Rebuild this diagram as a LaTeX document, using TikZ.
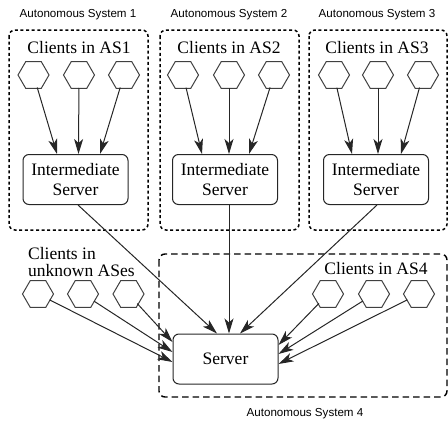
\documentclass[tikz,border=0pt]{standalone}
\usepackage{fontspec}
\setmainfont{Liberation Serif}
\newfontfamily\labelfont{Liberation Sans}
\usetikzlibrary{arrows.meta,calc}
\begin{document}
\begin{tikzpicture}[x=1pt,y=1pt,
  hexnode/.style={circle, minimum size=26pt, inner sep=0pt, outer sep=0pt},
  hexline/.style={draw=black!75, line width=1pt, line join=miter},
  srv/.style={draw=black!85, rounded corners=6pt, line width=1pt, minimum width=105pt, minimum height=50pt, align=center, inner sep=0pt, font=\fontsize{17.5}{19.5}\selectfont},
  ctext/.style={font=\fontsize{17.5}{17}\selectfont, inner sep=0pt},
  aslabel/.style={font=\labelfont\fontsize{11.6}{13}\selectfont, inner sep=0pt},
  asframe/.style={line width=1.5pt, dash pattern=on 3pt off 2.6pt, rounded corners=6pt},
  asframeb/.style={line width=1.4pt, dash pattern=on 6.5pt off 4pt, rounded corners=6pt},
  arr/.style={draw=black!85, line width=1pt, -{Stealth[length=15pt,width=9pt,inset=4pt]}}
]
\useasboundingbox (0,0) rectangle (448,-423);

% frames
\draw[asframe] (9,-30) rectangle (148,-230);
\draw[asframe] (160,-30) rectangle (299,-230);
\draw[asframe] (309,-30) rectangle (447,-230);
\draw[asframeb] (159,-254) rectangle (447,-397);

% AS labels
\node[aslabel] (l1) at (78,-15) {Autonomous System 1};
\node[aslabel] (l2) at (229,-15) {Autonomous System 2};
\node[aslabel] (l3) at (377,-15) {Autonomous System 3};
\node[aslabel] (l4) at (305,-414) {Autonomous System 4};

% client texts
\node[ctext, anchor=base] (c1) at (79,-53) {Clients in AS1};
\node[ctext, anchor=base] (c2) at (229,-53) {Clients in AS2};
\node[ctext, anchor=base] (c3) at (377,-53) {Clients in AS3};
\node[ctext, align=left, anchor=west] (cu) at (28,-262) {Clients in\\unknown ASes};
\node[ctext, anchor=base] (c4) at (376,-274) {Clients in AS4};

% hexagons
\foreach \n/\x/\y in {h11/33.5/-75, h12/79/-75, h13/124/-75,
                      h21/183/-75, h22/229/-75, h23/274/-75,
                      h31/334/-75, h32/378/-75, h33/423/-75,
                      u1/38/-294, u2/83/-294, u3/128.5/-294,
                      a1/328/-294, a2/374/-294, a3/419/-294} {
  \node[hexnode] (\n) at (\x,\y) {};
  \draw[hexline] (\x-15.5,\y) -- (\x-7.75,\y+13.4) -- (\x+7.75,\y+13.4)
     -- (\x+15.5,\y) -- (\x+7.75,\y-13.4) -- (\x-7.75,\y-13.4) -- cycle;
}

% servers
\node[srv] (ib1) at (75.5,-179.5) {Intermediate\\Server};
\node[srv] (ib2) at (225,-179.5) {Intermediate\\Server};
\node[srv] (ib3) at (376,-179.5) {Intermediate\\Server};
\node[srv] (sv) at (225.5,-359) {Server};

% arrows within AS1-3
\draw[arr] (h11) -- ([xshift=-18.5pt]ib1.north);
\draw[arr] (h12) -- ([xshift=3pt]ib1.north);
\draw[arr] (h13) -- ([xshift=24.5pt]ib1.north);
\draw[arr] (h21) -- ([xshift=-23pt]ib2.north);
\draw[arr] (h22) -- ([xshift=4pt]ib2.north);
\draw[arr] (h23) -- ([xshift=24pt]ib2.north);
\draw[arr] (h31) -- ([xshift=-24pt]ib3.north);
\draw[arr] (h32) -- ([xshift=2pt]ib3.north);
\draw[arr] (h33) -- ([xshift=25pt]ib3.north);

% intermediate to server
\draw[arr] ([xshift=2.5pt]ib1.south) -- ([xshift=-8.5pt]sv.north);
\draw[arr] ([xshift=4pt]ib2.south) -- ([xshift=3.5pt]sv.north);
\draw[arr] ([xshift=1pt]ib3.south) -- ([xshift=14.5pt]sv.north);

% unknown clients
\draw[arr] (u1) -- ([yshift=-3pt]sv.west);
\draw[arr] (u2) -- ([yshift=7pt]sv.west);
\draw[arr] (u3) -- ([yshift=17pt]sv.west);

% AS4 clients
\draw[arr] (a1) -- ([yshift=14pt]sv.east);
\draw[arr] (a2) -- ([yshift=5pt]sv.east);
\draw[arr] (a3) -- ([yshift=-5pt]sv.east);
\end{tikzpicture}
\end{document}
